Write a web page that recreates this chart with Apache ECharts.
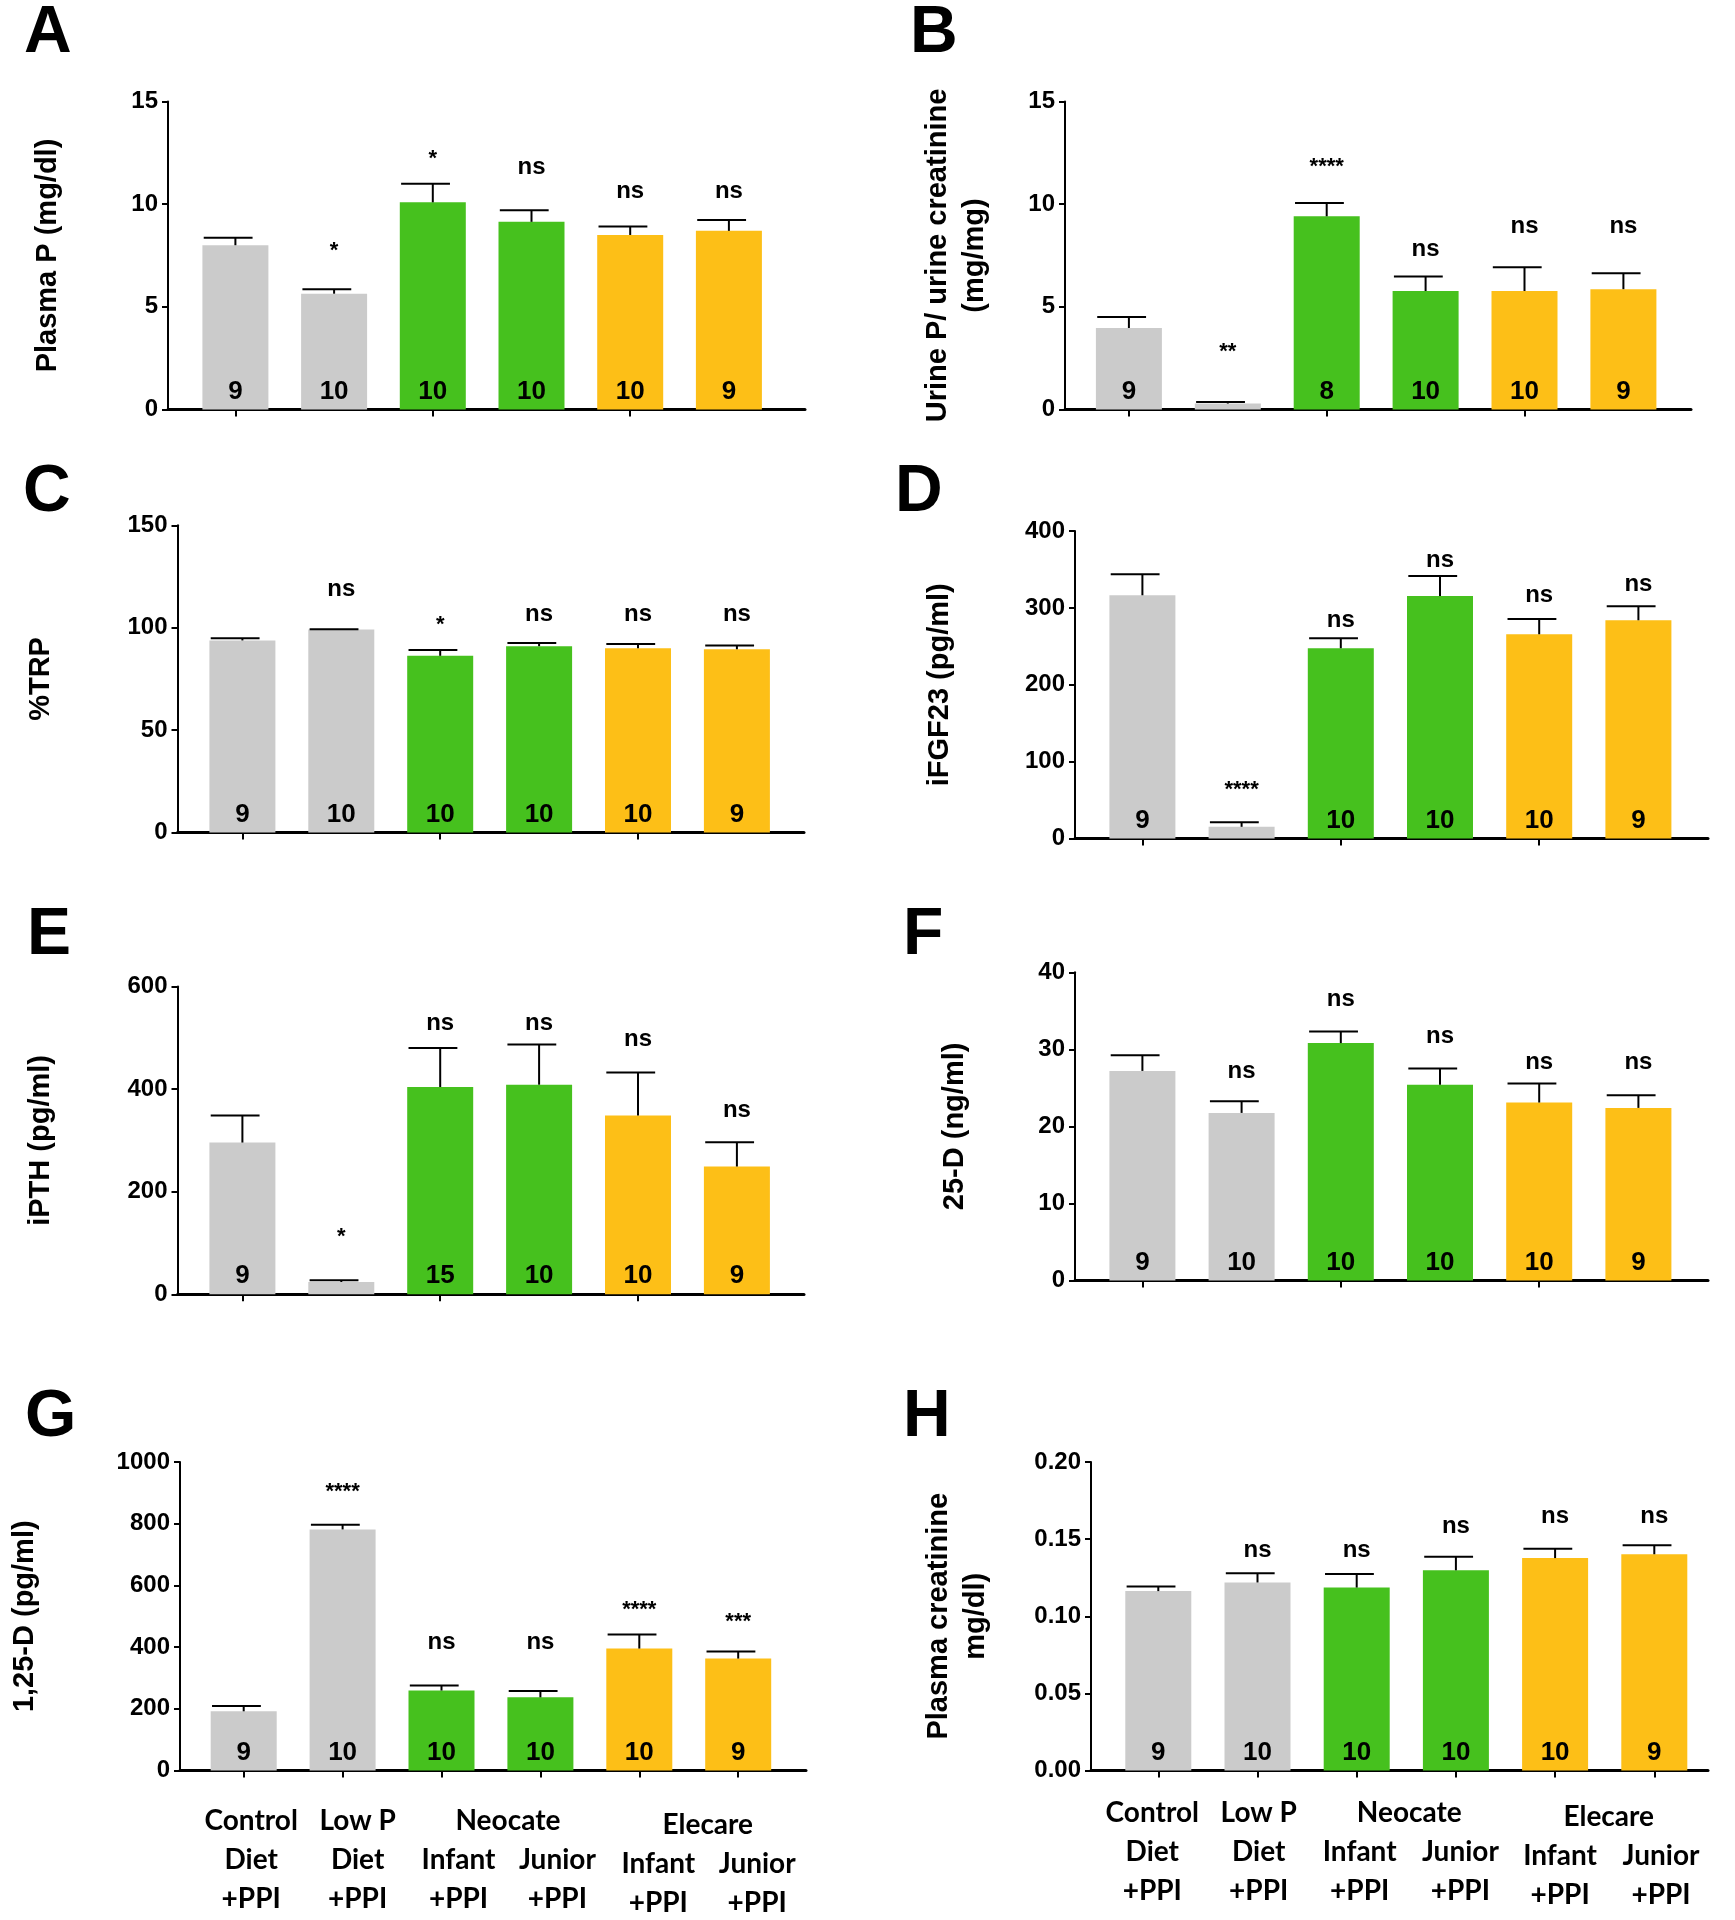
<!DOCTYPE html>
<html><head><meta charset="utf-8">
<script src="https://cdn.jsdelivr.net/npm/echarts@6/dist/echarts.min.js"></script>
<style>html,body{margin:0;padding:0;background:#fff}#c{width:1735px;height:1920px}</style>
</head><body><div id="c"></div>
<script>
// ---------------- data ----------------
const categories = ['Control Diet +PPI','Low P Diet +PPI','Neocate Infant +PPI','Neocate Junior +PPI','Elecare Infant +PPI','Elecare Junior +PPI'];
const categoryLines = [['Control','Diet','+PPI'],['Low P','Diet','+PPI'],['','Infant','+PPI'],['','Junior','+PPI'],['','Infant','+PPI'],['','Junior','+PPI']];
const groupLabels = [['Neocate',2,3],['Elecare',4,5]];
const barColors = ['#cbcbcb','#cbcbcb','#46c11e','#46c11e','#fdbf17','#fdbf17'];

const meanA = [8.0, 5.64, 10.09, 9.14, 8.50, 8.70];
const semA  = [0.37, 0.22, 0.91, 0.56, 0.41, 0.53];
const nA    = [9, 10, 10, 10, 10, 9];
const sigA  = ['', '*', '*', 'ns', 'ns', 'ns'];
const sigYA = [null, 7.99, 12.44, 11.71, 10.5, 10.5];

const meanB = [3.97, 0.29, 9.41, 5.77, 5.77, 5.86];
const semB  = [0.53, 0.08, 0.65, 0.71, 1.16, 0.78];
const nB    = [9, null, 8, 10, 10, 9];
const sigB  = ['', '**', '****', 'ns', 'ns', 'ns'];
const sigYB = [null, 3.05, 12.04, 7.71, 8.80, 8.80];

const meanC = [93.8, 99.1, 86.3, 91.0, 90.0, 89.5];
const semC  = [1.1, 0.2, 2.8, 1.6, 2.0, 1.8];
const nC    = [9, 10, 10, 10, 10, 9];
const sigC  = ['', 'ns', '*', 'ns', 'ns', 'ns'];
const sigYC = [null, 117.5, 103.7, 105.3, 105.3, 105.3];

const meanD = [316.4, 15.2, 247.5, 315.5, 265.7, 283.9];
const semD  = [27.3, 6.0, 13.0, 26.0, 19.9, 18.2];
const nD    = [9, null, 10, 10, 10, 9];
const sigD  = ['', '****', 'ns', 'ns', 'ns', 'ns'];
const sigYD = [null, 69.3, 280.4, 358.4, 313.3, 327.2];

const meanE = [295.8, 24.0, 404.1, 408.6, 348.3, 249.1];
const semE  = [52.5, 3.2, 75.9, 78.5, 84.3, 47.3];
const nE    = [9, null, 15, 10, 10, 9];
const sigE  = ['', '*', 'ns', 'ns', 'ns', 'ns'];
const sigYE = [null, 122, 524, 524, 493, 353.5];

const meanF = [27.2, 21.75, 30.81, 25.4, 23.1, 22.4];
const semF  = [2.05, 1.52, 1.52, 2.12, 2.47, 1.65];
const nF    = [9, 10, 10, 10, 10, 9];
const sigF  = ['', 'ns', 'ns', 'ns', 'ns', 'ns'];
const sigYF = [null, 26.87, 36.19, 31.42, 28.04, 28.04];

const meanG = [191.9, 781.4, 259.3, 237.2, 395.3, 362.8];
const semG  = [17.4, 15.1, 16.3, 20.9, 45.4, 23.2];
const nG    = [9, 10, 10, 10, 10, 9];
const sigG  = ['', '****', 'ns', 'ns', '****', '***'];
const sigYG = [null, 920.9, 407, 407, 537, 497.7];

const meanH = [0.1163, 0.1219, 0.1186, 0.1298, 0.1377, 0.1402];
const semH  = [0.0030, 0.0060, 0.0088, 0.0088, 0.0060, 0.0058];
const nH    = [9, 10, 10, 10, 10, 9];
const sigH  = ['', 'ns', 'ns', 'ns', 'ns', 'ns'];
const sigYH = [null, 0.1412, 0.1412, 0.157, 0.1635, 0.1635];

const yTicks = {A:[0,15,5], B:[0,15,5], C:[0,150,50], D:[0,400,100], E:[0,600,200], F:[0,40,10], G:[0,1000,200], H:[0,0.2,0.05]};
const yNames = {A:'Plasma P (mg/dl)', B:'Urine P/ urine creatinine\n(mg/mg)', C:'%TRP', D:'iFGF23 (pg/ml)', E:'iPTH (pg/ml)', F:'25-D (ng/ml)', G:'1,25-D (pg/ml)', H:'Plasma creatinine\nmg/dl)'};

const panels = [
  {key:'A', mean:meanA, sem:semA, n:nA, sig:sigA, sigY:sigYA},
  {key:'B', mean:meanB, sem:semB, n:nB, sig:sigB, sigY:sigYB},
  {key:'C', mean:meanC, sem:semC, n:nC, sig:sigC, sigY:sigYC},
  {key:'D', mean:meanD, sem:semD, n:nD, sig:sigD, sigY:sigYD},
  {key:'E', mean:meanE, sem:semE, n:nE, sig:sigE, sigY:sigYE},
  {key:'F', mean:meanF, sem:semF, n:nF, sig:sigF, sigY:sigYF},
  {key:'G', mean:meanG, sem:semG, n:nG, sig:sigG, sigY:sigYG},
  {key:'H', mean:meanH, sem:semH, n:nH, sig:sigH, sigY:sigYH}
];

// ---------------- layout (pixels) ----------------
const layout = {
  A:{yX:168, top:101.5, zero:409.5, right:805, c0:235.4, sp:98.7, gap:101.5, lx:24, ly:0.8},
  B:{yX:1065, top:101.5, zero:409.5, right:1691, c0:1128.9, sp:98.9, gap:72, lx:910, ly:0.8},
  C:{yX:177.5, top:525.3, zero:832.6, right:804, c0:242.4, sp:98.9, gap:118.5, lx:23, ly:459.7},
  D:{yX:1075, top:531, zero:838.5, right:1708, c0:1142.4, sp:99.2, gap:116.5, lx:895, ly:459.7},
  E:{yX:177.5, top:986.5, zero:1294.3, right:804, c0:242.4, sp:98.9, gap:118.5, lx:27, ly:903.2},
  F:{yX:1075, top:972.3, zero:1280.5, right:1708, c0:1142.4, sp:99.2, gap:102, lx:903, ly:903.2},
  G:{yX:180, top:1462, zero:1770.5, right:806, c0:243.7, sp:98.9, gap:136.5, lx:25, ly:1384.4,
     labels:true, margin:30.5, shift:[7.5,15,17,17,19,19], gshift:[17,19], gdrop:[0,4]},
  H:{yX:1091, top:1462, zero:1770.5, right:1708, c0:1158.3, sp:99.2, gap:97, lx:903, ly:1384.4,
     labels:true, margin:22.5, shift:[-6,1.2,3,4.5,5,6.7], gshift:[3,4], gdrop:[0,4]}
};

const AR = '"Liberation Sans", Arial, Helvetica, sans-serif';
const LATO = 'Lato, "Liberation Sans", sans-serif';
const BAR_W = 66, CAP_L = 0.48 * BAR_W, CAP_R = 0.26 * BAR_W;
const LINE_H = 39;

const option = {animation:false, backgroundColor:'#fff', grid:[], xAxis:[], yAxis:[], series:[], graphic:[]};

panels.forEach(p => {
  const L = layout[p.key];
  const tk = yTicks[p.key];
  const h = L.zero - L.top;
  const gO = option.grid.length;
  option.grid.push({left:L.yX, top:L.top, width:L.right - L.yX, height:h, containLabel:false, outerBoundsMode:'none'});
  const gI = gO + 1;
  option.grid.push({left:L.c0 - L.sp / 2, top:L.top, width:L.sp * 6, height:h, containLabel:false, outerBoundsMode:'none'});

  option.xAxis.push({gridIndex:gO, type:'value', min:0, max:1, silent:true,
    axisLine:{show:true, onZero:false, lineStyle:{color:'#000', width:3}},
    axisTick:{show:false}, axisLabel:{show:false}, splitLine:{show:false}});
  const dec = p.key === 'H' ? 2 : 0;
  option.yAxis.push({gridIndex:gO, type:'value', min:tk[0], max:tk[1], interval:tk[2], silent:true,
    axisLine:{show:true, lineStyle:{color:'#000', width:2}},
    axisTick:{show:true, length:6, lineStyle:{color:'#000', width:2}},
    axisLabel:{margin:10, color:'#000', fontFamily:AR, fontWeight:'bold', fontSize:24,
      formatter: v => v.toFixed(dec)},
    splitLine:{show:false},
    name:yNames[p.key], nameLocation:'middle', nameGap:L.gap, nameMoveOverlap:false,
    nameTextStyle:{color:'#000', fontFamily:AR, fontWeight:'bold', fontSize:29, lineHeight:37, align:'center'}});

  const xInner = {gridIndex:gI, type:'category', data:categories, silent:true,
    axisLine:{show:false},
    axisTick:{show:true, alignWithLabel:true, length:7, lineStyle:{color:'#000', width:2}},
    axisLabel:{show:false}, splitLine:{show:false}};
  if (L.labels) {
    const rich = {};
    categories.forEach((c, i) => {
      const s = L.shift[i];
      rich['s' + i] = {fontFamily:LATO, fontWeight:'bold', fontSize:28, lineHeight:LINE_H, color:'#000',
        padding: s >= 0 ? [0, 0, 0, 2 * s] : [0, -2 * s, 0, 0]};
      rich['g' + i] = {fontFamily:LATO, fontSize:28, lineHeight: LINE_H + (i >= 4 ? L.gdrop[1] : L.gdrop[0]), color:'#000'};
    });
    xInner.axisLabel = {show:true, interval:0, margin:L.margin, hideOverlap:false,
      formatter:(v, idx) => categoryLines[idx].map(l => l === '' ? '{g' + idx + '| }' : '{s' + idx + '|' + l + '}').join('\n'),
      rich:rich};
  }
  option.xAxis.push(xInner);
  option.yAxis.push({gridIndex:gI, type:'value', min:tk[0], max:tk[1], interval:tk[2], show:false});

  const xi = option.xAxis.length - 1, yi = option.yAxis.length - 1;

  option.series.push({type:'bar', xAxisIndex:xi, yAxisIndex:yi, barWidth:BAR_W, silent:true,
    data:p.mean.map((v, i) => ({value:v, itemStyle:{color:barColors[i]}})),
    label:{show:true, position:'insideBottom', distance:5, color:'#000', fontFamily:AR, fontWeight:'bold', fontSize:26, lineHeight:26,
      formatter: prm => p.n[prm.dataIndex] == null ? '' : String(p.n[prm.dataIndex])}, z:2});

  option.series.push({type:'custom', xAxisIndex:xi, yAxisIndex:yi, silent:true, clip:false, z:4,
    data:p.mean.map((m, i) => [i, m, m + p.sem[i]]),
    renderItem:(params, api) => {
      const b = api.coord([api.value(0), api.value(1)]);
      const t = api.coord([api.value(0), api.value(2)]);
      return {type:'group', children:[
        {type:'line', shape:{x1:b[0], y1:b[1], x2:t[0], y2:t[1]}, style:{stroke:'#000', lineWidth:2}},
        {type:'line', shape:{x1:t[0] - CAP_L, y1:t[1], x2:t[0] + CAP_R, y2:t[1]}, style:{stroke:'#000', lineWidth:2}}
      ]};
    }});

  option.series.push({type:'custom', xAxisIndex:xi, yAxisIndex:yi, silent:true, clip:false, z:5,
    data:p.sig.map((s, i) => [i, p.sigY[i]]).filter(d => d[1] != null),
    renderItem:(params, api) => {
      const i = api.value(0);
      const s = p.sig[i];
      const pt = api.coord([i, api.value(1)]);
      const star = s.charAt(0) === '*';
      const fs = star ? 22 : 24;
      return {type:'text', x:pt[0], y:pt[1] + (star ? 0.23 * fs : -0.09 * fs),
        style:{text:s, fill:'#000', fontFamily:AR, fontWeight:'bold', fontSize:fs, align:'center', verticalAlign:'middle'}};
    }});

  if (L.labels) {
    option.series.push({type:'custom', xAxisIndex:xi, yAxisIndex:yi, silent:true, clip:false, z:5,
      data:groupLabels.map(g => [g[1], g[2]]),
      renderItem:(params, api) => {
        const k = params.dataIndex;
        const a = api.coord([api.value(0), 0]);
        const b = api.coord([api.value(1), 0]);
        return {type:'text', x:(a[0] + b[0]) / 2 + L.gshift[k], y:a[1] + L.margin + LINE_H / 2 + L.gdrop[k],
          style:{text:groupLabels[k][0], fill:'#000', fontFamily:LATO, fontWeight:'bold', fontSize:28, align:'center', verticalAlign:'middle'}};
      }});
  }

  option.graphic.push({type:'text', left:L.lx, top:L.ly, silent:true,
    style:{text:p.key, fill:'#000', fontFamily:AR, fontWeight:'bold', fontSize:66}});
});

const chart = echarts.init(document.getElementById('c'), null, {renderer:'canvas', width:1735, height:1920});
chart.setOption(option);
</script>
</body></html>
